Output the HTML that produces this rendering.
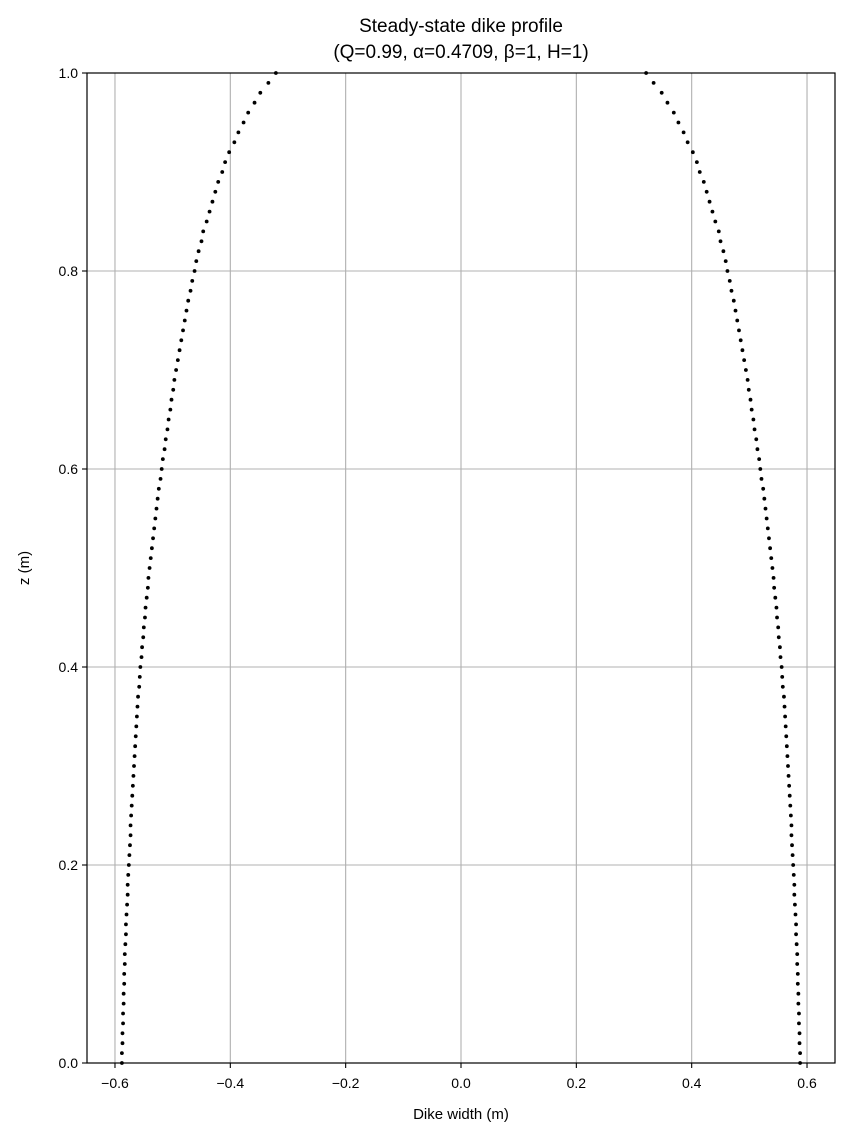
<!DOCTYPE html>
<html><head><meta charset="utf-8"><style>
body{margin:0;background:#fff;}
svg text{font-family:"Liberation Sans","DejaVu Sans",sans-serif;fill:#000;}
</style></head><body>
<svg width="849" height="1137" viewBox="0 0 849 1137">
<g id="grid"></g>
<g id="series"></g>
<rect x="87" y="73" width="748" height="990" fill="none" stroke="#000" stroke-width="1.2"/>
<g id="ticks"></g>
<text x="461" y="32" font-size="19" text-anchor="middle">Steady-state dike profile</text>
<text x="461" y="58" font-size="19" text-anchor="middle">(Q=0.99, α=0.4709, β=1, H=1)</text>
<text x="461" y="1119" font-size="15" text-anchor="middle">Dike width (m)</text>
<text x="29" y="568" font-size="15" text-anchor="middle" transform="rotate(-90 29 568)">z (m)</text>
</svg>
<script>
const xTicks=[-0.6,-0.4,-0.2,0.0,0.2,0.4,0.6];
const xTickLabels=["−0.6","−0.4","−0.2","0.0","0.2","0.4","0.6"];
const yTicks=[0,0.2,0.4,0.6,0.8,1.0];
const yTickLabels=["0.0","0.2","0.4","0.6","0.8","1.0"];
const zStep=0.01;
const halfWidth=[
.588,.588,.587,.587,.586,.586,.585,.585,.584,.584,
.583,.583,.582,.581,.581,.580,.579,.578,.578,.577,
.576,.575,.574,.573,.573,.572,.571,.570,.569,.568,
.567,.566,.565,.564,.563,.562,.561,.560,.558,.557,
.556,.554,.553,.551,.550,.548,.547,.545,.543,.542,
.540,.538,.536,.534,.532,.530,.528,.526,.524,.521,
.519,.517,.514,.512,.509,.507,.504,.502,.499,.497,
.494,.491,.488,.485,.482,.479,.476,.473,.469,.466,
.462,.459,.455,.450,.447,.441,.436,.431,.426,.421,
.414,.409,.402,.393,.386,.377,.369,.358,.348,.334,
.321];
const X=v=>461+v*576.7, Y=v=>1063-v*990;
const NS="http://www.w3.org/2000/svg";
const grid=document.getElementById('grid'),ticks=document.getElementById('ticks'),ser=document.getElementById('series');
function mk(t,a){const e=document.createElementNS(NS,t);for(const k in a)e.setAttribute(k,a[k]);return e;}
xTicks.forEach((v,i)=>{
 const g=mk('line',{x1:X(v),x2:X(v),y1:73,y2:1063,stroke:'#b0b0b0','stroke-width':1.1});
 
 
 grid.appendChild(g);
 const t=mk('line',{x1:X(v),x2:X(v),y1:1063,y2:1068,stroke:'#000','stroke-width':1.1});
 
 
 ticks.appendChild(t);
 const l=mk('text',{x:X(v),y:1088,'font-size':14,'text-anchor':'middle'});l.textContent=xTickLabels[i];
 
 
 ticks.appendChild(l);
});
yTicks.forEach((v,i)=>{
 const g=mk('line',{x1:87,x2:835,y1:Y(v),y2:Y(v),stroke:'#b0b0b0','stroke-width':1.1});
 
 
 grid.appendChild(g);
 const t=mk('line',{x1:82,x2:87,y1:Y(v),y2:Y(v),stroke:'#000','stroke-width':1.1});
 
 
 ticks.appendChild(t);
 const l=mk('text',{x:78,y:Y(v)+5,'font-size':14,'text-anchor':'end'});l.textContent=yTickLabels[i];
 
 
 ticks.appendChild(l);
});
[-1,1].forEach(s=>{
 halfWidth.forEach((w,i)=>{
  const c=mk('circle',{cx:X(s*w),cy:Y(i*zStep),r:1.9,fill:'#000'});
  
  
  ser.appendChild(c);
 });
});
</script>
</body></html>
